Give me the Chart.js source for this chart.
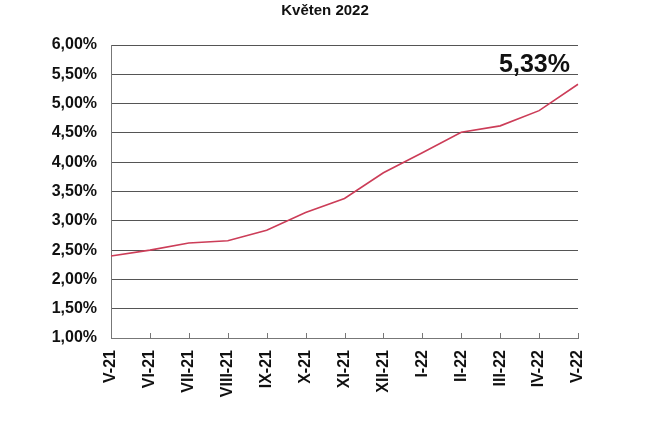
<!DOCTYPE html>
<html>
<head>
<meta charset="utf-8">
<script src="https://cdn.jsdelivr.net/npm/chart.js@4"></script>
<style>
html,body{margin:0;padding:0;background:#fff;}
canvas{display:block;}
</style>
</head>
<body>
<canvas id="c" width="660" height="434"></canvas>
<script>
const chartTitle = "Květen 2022";
const categories = ["V-21","VI-21","VII-21","VIII-21","IX-21","X-21","XI-21","XII-21","I-22","II-22","III-22","IV-22","V-22"];
const rates = [2.40, 2.50, 2.62, 2.66, 2.84, 3.14, 3.38, 3.82, 4.16, 4.51, 4.62, 4.88, 5.33];
const yMin = 1, yMax = 6, yStep = 0.5;

const fmt = v => v.toFixed(2).replace('.', ',') + '%';
const FONT = "'Liberation Sans', Arial, sans-serif";

const extras = {
  id: 'extras',
  afterDraw(chart) {
    const ctx = chart.ctx;
    const x = chart.scales.x, ca = chart.chartArea;
    ctx.save();
    // inner tick marks on x axis
    ctx.strokeStyle = '#777';
    ctx.lineWidth = 1;
    categories.forEach((c, i) => {
      const px = Math.round(x.getPixelForValue(i)) + 0.5;
      ctx.beginPath();
      ctx.moveTo(px, ca.bottom);
      ctx.lineTo(px, ca.bottom - 5);
      ctx.stroke();
    });
    // title
    ctx.fillStyle = '#111';
    ctx.font = "bold 15px " + FONT;
    ctx.textAlign = 'center';
    ctx.textBaseline = 'alphabetic';
    ctx.fillText(chartTitle, 325, 15);
    // last value annotation
    ctx.font = "bold 25px " + FONT;
    ctx.textAlign = 'right';
    ctx.fillText(fmt(rates[rates.length - 1]), ca.right - 8, 72);
    ctx.restore();
  }
};

new Chart(document.getElementById('c'), {
  type: 'line',
  data: {
    labels: categories,
    datasets: [{
      data: rates,
      borderColor: '#cc3d58',
      borderWidth: 1.6,
      pointRadius: 0,
      tension: 0,
      fill: false
    }]
  },
  options: {
    responsive: false,
    animation: false,
    devicePixelRatio: 1,
    layout: { padding: { top: 45, left: 0, right: 82, bottom: 0 } },
    plugins: { legend: { display: false }, title: { display: false }, tooltip: { enabled: false } },
    scales: {
      x: {
        type: 'category',
        offset: false,
        grid: { drawOnChartArea: false, drawTicks: false },
        border: { display: true, color: '#777', width: 1 },
        ticks: {
          color: '#111',
          font: { family: FONT, size: 16, weight: 'bold' },
          minRotation: 90, maxRotation: 90,
          padding: 12,
          autoSkip: false
        },
        afterFit(s) { s.height = 96; }
      },
      y: {
        min: yMin, max: yMax,
        grid: { color: '#555', lineWidth: 1, drawTicks: false },
        border: { display: true, color: '#777', width: 1 },
        ticks: {
          stepSize: yStep,
          color: '#111',
          font: { family: FONT, size: 16, weight: 'bold' },
          padding: 14,
          callback: v => fmt(v)
        },
        afterFit(s) { s.width = 111; }
      }
    }
  },
  plugins: [extras]
});
</script>
</body>
</html>
